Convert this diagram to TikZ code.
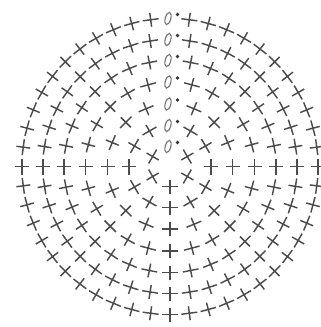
\documentclass[tikz,border=0pt]{standalone}
\begin{document}
\begin{tikzpicture}[x=1pt,y=-1pt,
  stitch/.style={line width=1.45pt, draw=black!70, line cap=butt},
  chainoval/.style={line width=1.1pt, draw=black!55},
  slipdot/.style={fill=black!80, draw=none}]
\useasboundingbox (0,0) rectangle (321,327);
\def\cx{170}
\def\cy{166.5}
\foreach \r/\n in {20/6, 41/12, 62.5/16, 84.5/24, 106/32, 127/40, 148/48} {
  \pgfmathsetmacro{\da}{360/\n}
  \pgfmathtruncatemacro{\m}{\n-1}
  \foreach \j in {1,...,\m} {
    \pgfmathsetmacro{\a}{\j*\da}
    \pgfmathsetmacro{\px}{\cx+\r*sin(\a)}
    \pgfmathsetmacro{\py}{\cy-\r*cos(\a)}
    \draw[stitch, shift={(\px,\py)}, rotate=-\a] (-8,0) -- (8,0) (0,-7) -- (0,7);
  }
  % chain oval and slip stitch dot at the start of the round
  \draw[chainoval] (\cx-2,\cy-\r) ellipse [x radius=2.8, y radius=6.3, rotate=-15];
  \fill[slipdot] (\cx+7.5,\cy-\r-4) circle (1.9);
}
\end{tikzpicture}
\end{document}
